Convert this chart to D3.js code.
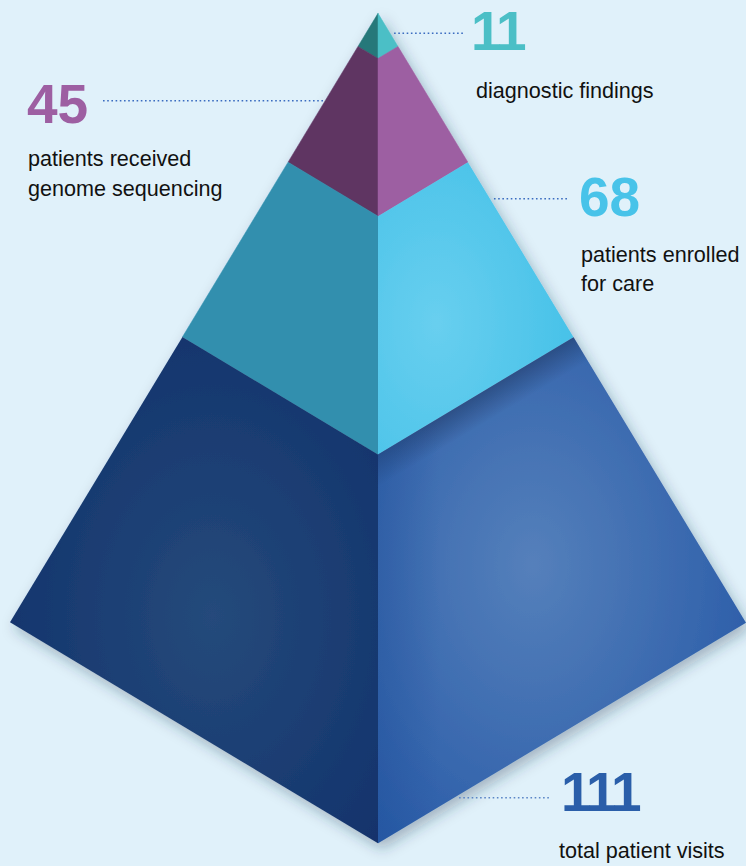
<!DOCTYPE html>
<html>
<head>
<meta charset="utf-8">
<script src="https://cdn.jsdelivr.net/npm/d3@7"></script>
<style>
html,body{margin:0;padding:0;background:#e0f1fa;}
svg{display:block;}
</style>
</head>
<body>
<div id="chart"></div>
<script>
// ---- data ----
const categories = ["diagnostic findings", "patients received genome sequencing", "patients enrolled for care", "total patient visits"];
const values = [11, 45, 68, 111];
const valueLabels = ["11", "45", "68", "111"];

// ---- styles ----
const leftColors  = ["#27787a", "#5e3562", "#308fae", "#12316a"];
const rightColors = ["#4bbfc6", "#9d5fa2", "#47c2e8", "#2b5ea9"];
const numberColors = ["#4bbfc6", "#9d5fa2", "#48c3e9", "#2a5ea9"];

const W = 746, H = 866;
const svg = d3.select("#chart").append("svg").attr("width", W).attr("height", H);
svg.append("rect").attr("width", W).attr("height", H).attr("fill", "#e0f1fa");

const defs = svg.append("defs");
const f = defs.append("filter").attr("id", "shadow").attr("x", "-10%").attr("y", "-10%").attr("width", "130%").attr("height", "130%");
f.append("feDropShadow").attr("dx", 4).attr("dy", 6).attr("stdDeviation", 7)
  .attr("flood-color", "#1d3550").attr("flood-opacity", 0.32);

// pyramid geometry (layout)
const A = [378, 13.3], L = [10, 622.3], R = [746, 622.7], F = [378, 843.3];
const lerp = (p, q, t) => [p[0] + (q[0] - p[0]) * t, p[1] + (q[1] - p[1]) * t];

// cumulative values from top determine layer depth
const cum = d3.cumsum(values);
const total = cum[cum.length - 1];
const depth = d3.scaleLinear().domain([0, total]).range([0.008, 1]);
const bounds = [0].concat(Array.from(cum, c => depth(c)));
bounds[bounds.length - 1] = 1;

// gradients
function radial(id, cx, cy, r, inner, outer) {
  const g = defs.append("radialGradient").attr("id", id).attr("cx", cx).attr("cy", cy).attr("r", r);
  g.append("stop").attr("offset", "0%").attr("stop-color", inner);
  g.append("stop").attr("offset", "100%").attr("stop-color", outer);
}
radial("gTealR", "0.3", "0.55", "0.75", "#68cfef", "#45c1e8");
radial("gBlueL", "0.55", "0.55", "0.7", "#254a7b", "#10306a");
radial("gBlueR", "0.42", "0.45", "0.66", "#5580bb", "#2a5ca8");
const fillsL = [leftColors[0], leftColors[1], leftColors[2], "url(#gBlueL)"];
const fillsR = [rightColors[0], rightColors[1], "url(#gTealR)", "url(#gBlueR)"];

const pyr = svg.append("g").attr("filter", "url(#shadow)");
const line = d3.line();

values.forEach((v, i) => {
  const t0 = bounds[i], t1 = bounds[i + 1];
  const lp = [lerp(A, L, t0), lerp(A, F, t0), lerp(A, F, t1), lerp(A, L, t1)];
  const rp = [lerp(A, F, t0), lerp(A, R, t0), lerp(A, R, t1), lerp(A, F, t1)];
  pyr.append("path").attr("d", line(lp) + "Z").attr("fill", fillsL[i])
    .attr("stroke", fillsL[i].startsWith("url") ? "none" : fillsL[i]).attr("stroke-width", 0.5);
  pyr.append("path").attr("d", line(rp) + "Z").attr("fill", fillsR[i])
    .attr("stroke", fillsR[i].startsWith("url") ? "none" : fillsR[i]).attr("stroke-width", 0.5);
});

// shade cast below the cyan layer onto the bottom right face
{
  const t = bounds[3];
  const p0 = lerp(A, F, t), p1 = lerp(A, R, t);
  const dx = p1[0] - p0[0], dy = p1[1] - p0[1], n = Math.hypot(dx, dy);
  const nx = -dy / n, ny = dx / n; // pointing downward
  const mx = (p0[0] + p1[0]) / 2, my = (p0[1] + p1[1]) / 2;
  const g = defs.append("linearGradient").attr("id", "gShade").attr("gradientUnits", "userSpaceOnUse")
    .attr("x1", mx).attr("y1", my).attr("x2", mx + nx * 28).attr("y2", my + ny * 28);
  g.append("stop").attr("offset", "0%").attr("stop-color", "#1a2f55").attr("stop-opacity", 0.45);
  g.append("stop").attr("offset", "100%").attr("stop-color", "#1a2f55").attr("stop-opacity", 0);
  const rp = [lerp(A, F, t), lerp(A, R, t), R, F];
  svg.append("path").attr("d", line(rp) + "Z").attr("fill", "url(#gShade)");
  const g2 = defs.append("linearGradient").attr("id", "gEdge").attr("gradientUnits", "userSpaceOnUse")
    .attr("x1", 378).attr("y1", 0).attr("x2", 440).attr("y2", 0);
  g2.append("stop").attr("offset", "0%").attr("stop-color", "#1f4f98").attr("stop-opacity", 0.35);
  g2.append("stop").attr("offset", "100%").attr("stop-color", "#1f4f98").attr("stop-opacity", 0);
  svg.append("path").attr("d", line(rp) + "Z").attr("fill", "url(#gEdge)");
}

// ---- labels (layout) ----
const labelLayout = [
  { x: 471, y: 50, ls: -2.5, lines: ["diagnostic findings"], tx: 476, ty: 97.5, ly: 33.3, side: "right", lx: 463 },
  { x: 27, y: 123, ls: 0, lines: ["patients received", "genome sequencing"], tx: 28, ty: 166, ly: 100.7, side: "left", lx: 103 },
  { x: 579, y: 216, ls: 0, lines: ["patients enrolled", "for care"], tx: 581, ty: 261.5, ly: 198.7, side: "right", lx: 569 },
  { x: 561, y: 810.5, ls: -2.5, lines: ["total patient visits"], tx: 559, ty: 858, ly: 797.7, side: "bottom", lx: 551 }
];

function edgeX(p, q, y) { return p[0] + (q[0] - p[0]) * (y - p[1]) / (q[1] - p[1]); }

const lab = svg.append("g");
categories.forEach((c, i) => {
  const o = labelLayout[i];
  lab.append("text").attr("x", o.x).attr("y", o.y)
    .attr("font-family", "'Liberation Sans', Arial, sans-serif").attr("font-weight", "bold")
    .attr("font-size", 55).attr("letter-spacing", o.ls).attr("fill", numberColors[i]).text(valueLabels[i]);
  o.lines.forEach((ln, j) => {
    lab.append("text").attr("x", o.tx).attr("y", o.ty + j * 29.5)
      .attr("font-family", "'Liberation Sans', Arial, sans-serif")
      .attr("font-size", 21.6).attr("fill", "#111").text(ln);
  });
  let x1, x2;
  if (o.side === "right") { x1 = edgeX(A, R, o.ly) + 4; x2 = o.lx; }
  else if (o.side === "left") { x1 = o.lx; x2 = edgeX(A, L, o.ly) - 1; }
  else { x1 = edgeX(R, F, o.ly) + 5; x2 = o.lx; }
  lab.append("line").attr("x1", x1).attr("x2", x2).attr("y1", o.ly).attr("y2", o.ly)
    .attr("stroke", i === 3 ? "#5b86c6" : "#3a6cc0").attr("stroke-width", 1.4)
    .attr("stroke-dasharray", "1.6,2.6");
});
</script>
</body>
</html>
